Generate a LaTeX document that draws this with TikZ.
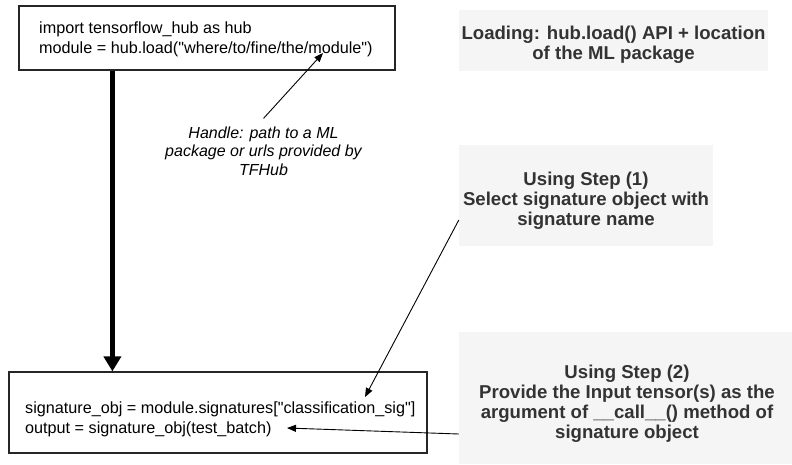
\documentclass[tikz,border=0pt]{standalone}
\usepackage{fontspec}
\setmainfont{Liberation Sans}[Ligatures=TeXOff]
\usetikzlibrary{arrows.meta,calc}
\definecolor{graybg}{HTML}{F5F5F5}
\definecolor{graytext}{HTML}{333333}
\begin{document}
\begin{tikzpicture}[x=1pt,y=-1pt,
  codebox/.style={draw=black!85,line width=1.2pt,inner sep=0pt},
  codetext/.style={anchor=west,align=left,inner sep=0pt,font=\fontsize{16.2}{20}\selectfont},
  notebox/.style={fill=graybg,inner sep=0pt},
  notetext/.style={text=graytext,align=center,inner sep=0pt,font=\bfseries\fontsize{18.6}{20}\selectfont},
  handlestyle/.style={align=center,inner xsep=0pt,inner ysep=8pt,font=\itshape\fontsize{16}{18.5}\selectfont},
  thinarrow/.style={-{Triangle[length=9pt,width=7pt]},line width=0.9pt},
  bigarrow/.style={-{Triangle[length=15pt,width=17pt]},line width=5pt}]
\useasboundingbox (0,0) rectangle (792,464);
% code boxes
\node[codebox,minimum width=376pt,minimum height=64pt] (box1) at (207,38) {};
\node[codetext] (box1text) at (39,39.5) {import tensorflow\_hub as hub\\module = hub.load("where/to/fine/the/module")};
\node[codebox,minimum width=418pt,minimum height=81pt] (sig) at (218,412.5) {};
\node[codetext] (sigtext) at (25,419) {signature\_obj = module.signatures["classification\_sig"]\\output = signature\_obj(test\_batch)};
% notes
\node[notebox,minimum width=309pt,minimum height=61pt] (load) at (613.5,40.5) {};
\node[notetext] (loadtext) at (613.5,44.5) {Loading: hub.load() API + location\\of the ML package};
\node[notebox,minimum width=254pt,minimum height=101pt] (step1) at (586,195.5) {};
\node[notetext] (step1text) at (586,200.5) {Using Step (1)\\Select signature object with\\signature name};
\node[notebox,minimum width=333pt,minimum height=132pt] (step2) at (625.5,398) {};
\node[notetext] (step2text) at (627,404) {Using Step (2)\\Provide the Input tensor(s) as the\\argument of \_\_call\_\_() method of\\signature object};
\node[handlestyle] (handle) at (263.5,151) {Handle: path to a ML\\package or urls provided by\\TFHub};
% connectors
\coordinate (thickstart) at ($(box1.south west)+(94,0)$);
\draw[bigarrow] (thickstart) -- (thickstart |- sig.north);
\coordinate (modpt) at (323,53);
\draw[thinarrow] (handle.north) -- (modpt);
\coordinate (sigpt) at (365,397);
\draw[thinarrow] ([yshift=-24.5pt]step1.west) -- (sigpt);
\coordinate (outpt) at (287,428);
\draw[thinarrow] ([yshift=-36pt]step2.west) -- (outpt);
\end{tikzpicture}
\end{document}
